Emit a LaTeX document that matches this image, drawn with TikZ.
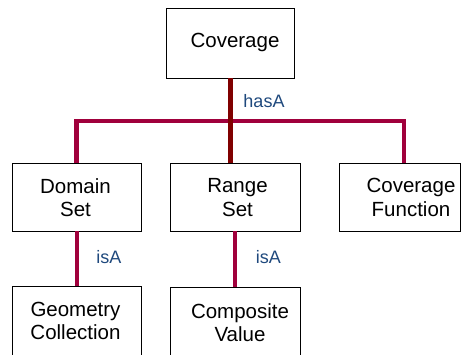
\documentclass[tikz,border=0pt]{standalone}
\usepackage{fontspec}
\setmainfont{Liberation Sans}
\definecolor{barred}{RGB}{160,0,60}
\definecolor{maroonc}{RGB}{128,0,0}
\definecolor{lblue}{RGB}{31,73,125}
\begin{document}
\begin{tikzpicture}[x=1pt,y=-1pt,
  box/.style={draw=black,line width=0.8pt,minimum width=#1,minimum height=68pt,inner sep=0pt},
  tallbox/.style={draw=black,line width=0.8pt,minimum width=#1,minimum height=80pt,inner sep=0pt},
  txt/.style={inner sep=0pt,align=center,font=\fontsize{20.5}{23.5}\selectfont},
  lbl/.style={inner sep=0pt,text=lblue,font=\fontsize{18}{20}\selectfont},
  barline/.style={draw=barred,line width=4.8pt},
  stemline/.style={draw=maroonc,line width=4.8pt},
  isaline/.style={draw=barred,line width=4pt}]
\useasboundingbox (0,0) rectangle (461,354);
\clip (0,0) rectangle (461,354);
% boxes
\node[box=127.3pt,minimum height=70pt] (cov) at (230.3,43) {};
\node[box=129pt] (dom) at (76.5,197) {};
\node[box=129.3pt] (range) at (235.3,197) {};
\node[box=121pt] (cf) at (399.5,197) {};
\node[tallbox=129pt] (geo) at (76.5,326) {};
\node[tallbox=129.3pt] (comp) at (235.5,327.5) {};
% texts
\node[txt] (tcov) at (235,42.5) {Coverage};
\node[txt] (tdom) at (75.5,197.5) {Domain\\Set};
\node[txt] (trange) at (237.5,197.5) {Range\\Set};
\node[txt] (tcf) at (411,197.5) {Coverage\\Function};
\node[txt] (tgeo) at (75.5,321) {Geometry\\Collection};
\node[txt] (tcomp) at (240,322.5) {Composite\\Value};
% connectors
\coordinate (barL) at (76.5,121);
\coordinate (barR) at (404,121);
\draw[barline] (dom.north) -- (dom.north |- barL) -- (barR) -- (barR |- cf.north);
\draw[stemline] (cov.south) -- (cov.south |- range.north);
\draw[isaline] (dom.south) -- (geo.north);
\draw[isaline] (range.south) -- (range.south |- comp.north);
% labels
\node[lbl] (has) at (264,101) {hasA};
\node[lbl] (isa1) at (109,256.7) {isA};
\node[lbl] (isa2) at (268.3,257.5) {isA};
\end{tikzpicture}
\end{document}
